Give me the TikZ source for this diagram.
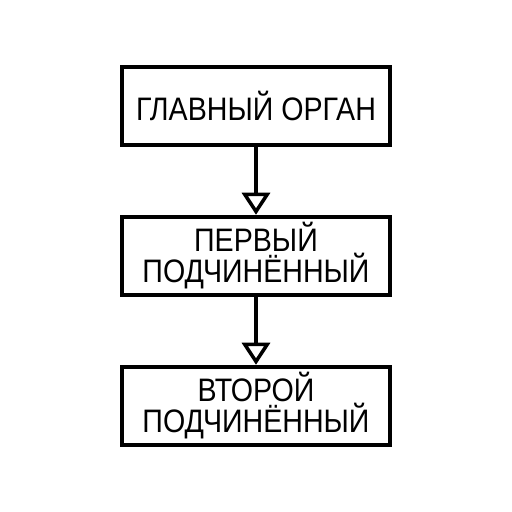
\documentclass[tikz,border=0pt]{standalone}
\usepackage{fontspec}
\setmainfont[FakeStretch=0.88]{Liberation Sans}
\usetikzlibrary{arrows.meta}

\begin{document}
\begin{tikzpicture}[
    x=1pt, y=1pt,
    node distance=150pt,
    organ/.style={rectangle, draw, line width=4.5pt,
                  fill=white,
                  minimum width=268pt,
                  minimum height=78pt,
                  align=center,
                  font=\fontsize{32.5}{31}\selectfont},
    link/.style={-{Triangle[open, length=22pt, width=28pt, line width=3.5pt]}, line width=4.5pt}
]
\useasboundingbox (0,0) rectangle (512,512);
\node[organ] (main) at (256,406) {ГЛАВНЫЙ ОРГАН};
\node[organ, below of=main] (first) {ПЕРВЫЙ\\ПОДЧИНЁННЫЙ};
\node[organ, below of=first] (second) {ВТОРОЙ\\ПОДЧИНЁННЫЙ};
\draw[link] (main) -- (first);
\draw[link] (first) -- (second);
\end{tikzpicture}
\end{document}
